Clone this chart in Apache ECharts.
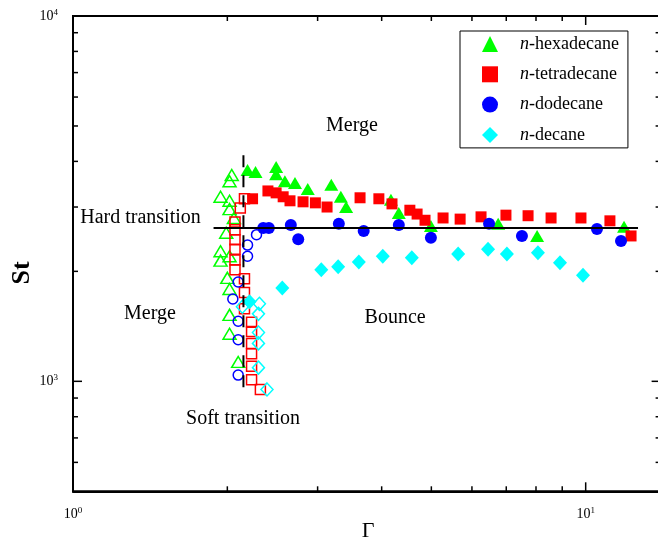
<!DOCTYPE html>
<html style="height: 100%">
<head>
    <meta charset="utf-8">
</head>
<body style="height: 100%; margin: 0">
<div id="container" style="width: 658px; height: 544px"></div>
<script type="text/javascript" src="https://cdn.jsdelivr.net/npm/echarts@6/dist/echarts.min.js"></script>
<script type="text/javascript">
    // [Gamma, St]; filled = bounce, hollow = merge
    var hexaBounce = [[2.19, 3790], [2.27, 3740], [2.49, 3860], [2.49, 3690], [2.59, 3530], [2.71, 3490],
        [2.87, 3360], [3.19, 3450], [3.33, 3200], [3.41, 3000], [4.17, 3140], [4.32, 2890], [4.99, 2660],
        [6.75, 2700], [8.04, 2500], [11.88, 2650]];
    var hexaMerge = [[2.04, 3670], [2.02, 3530], [1.94, 3200], [2.02, 3120], [2.02, 2960], [2.06, 2800],
        [1.99, 2550], [1.94, 2270], [2.02, 2200], [1.94, 2140], [2.00, 1920], [2.02, 1790], [2.02, 1520],
        [2.02, 1350], [2.10, 1130]];
    var tetraBounce = [[2.24, 3160], [2.40, 3320], [2.49, 3280], [2.57, 3200], [2.65, 3120], [2.81, 3100],
        [2.97, 3080], [3.13, 3000], [3.63, 3180], [3.95, 3160], [4.19, 3060], [4.54, 2940], [4.69, 2870],
        [4.86, 2760], [5.27, 2800], [5.69, 2780], [6.25, 2820], [6.99, 2850], [7.72, 2840], [8.56, 2800],
        [9.79, 2800], [11.15, 2750], [12.26, 2500]];
    var tetraMerge = [[2.16, 3160], [2.12, 2980], [2.07, 2730], [2.07, 2600], [2.07, 2440], [2.07, 2300],
        [2.07, 2150], [2.07, 2020], [2.16, 1910], [2.16, 1750], [2.16, 1580], [2.23, 1450], [2.23, 1370],
        [2.23, 1270], [2.23, 1190], [2.23, 1100], [2.23, 1010], [2.32, 950]];
    var dodeBounce = [[2.35, 2630], [2.41, 2630], [2.66, 2680], [2.75, 2450], [3.30, 2700], [3.69, 2580],
        [4.32, 2680], [4.99, 2470], [6.48, 2700], [7.51, 2500], [10.52, 2610], [11.72, 2420]];
    var dodeMerge = [[2.28, 2520], [2.19, 2360], [2.19, 2200], [2.10, 1870], [2.05, 1680], [2.10, 1460],
        [2.10, 1300], [2.10, 1040]];
    var decaBounce = [[2.21, 1650], [2.56, 1800], [3.05, 2020], [3.29, 2060], [3.61, 2120], [4.02, 2200],
        [4.58, 2180], [5.64, 2230], [6.45, 2300], [7.02, 2230], [8.07, 2250], [8.91, 2110], [9.88, 1950]];
    var decaMerge = [[2.14, 1600], [2.31, 1630], [2.30, 1530], [2.30, 1360], [2.30, 1270], [2.30, 1090],
        [2.39, 950]];

    var hardLine = [[1.88, 2630], [12.65, 2630]];
    var softLine = [[2.15, 4160], [2.15, 920]];

    var notes = [[3.50, 5000, 'Merge'], [1.354, 2800, 'Hard transition'], [1.413, 1530, 'Merge'],
        [4.25, 1490, 'Bounce'], [2.146, 788, 'Soft transition']];

    var xRange = [1, 14];
    var yRange = [500, 10000];
    var xMajorTicks = [1, 10];
    var xMinorTicks = [2, 3, 4, 5, 6, 7, 8, 9];
    var yMajorTicks = [1000, 10000];
    var yMinorTicks = [600, 700, 800, 900, 2000, 3000, 4000, 5000, 6000, 7000, 8000, 9000];

    var FONT = '"Liberation Serif", "Times New Roman", serif';

    var xTickData = xMajorTicks.map(function (v) { return [v, yRange[0], 1]; })
        .concat(xMinorTicks.map(function (v) { return [v, yRange[0], 0]; }));
    var yTickData = yMajorTicks.map(function (v) { return [xRange[0], v, 1]; })
        .concat(yMinorTicks.map(function (v) { return [xRange[0], v, 0]; }));

    function powLabel(v) {
        var e = Math.round(Math.log(v) / Math.LN10);
        if (Math.abs(Math.pow(10, e) - v) > 1e-6 * v) {
            return '';
        }
        return '{b|10}{s|' + e + '}';
    }
    var labelRich = {
        b: {fontFamily: FONT, fontSize: 14, lineHeight: 16, color: '#000'},
        s: {fontFamily: FONT, fontSize: 9, lineHeight: 9, verticalAlign: 'top', color: '#000'}
    };

    function tickLine(x1, y1, x2, y2) {
        return {type: 'line', shape: {x1: x1, y1: y1, x2: x2, y2: y2},
            style: {stroke: '#000', lineWidth: 1.5}};
    }
    function renderXTick(params, api) {
        var cs = params.coordSys;
        var x = api.coord([api.value(0), yRange[0]])[0];
        var len = api.value(2) ? 9 : 5;
        var b = cs.y + cs.height;
        return {type: 'group', children: [
            tickLine(x, b, x, b - len),
            tickLine(x, cs.y, x, cs.y + len)
        ]};
    }
    function renderYTick(params, api) {
        var cs = params.coordSys;
        var y = api.coord([xRange[0], api.value(1)])[1];
        var len = api.value(2) ? 9 : 5;
        var r = cs.x + cs.width;
        return {type: 'group', children: [
            tickLine(cs.x, y, cs.x + len, y),
            tickLine(r, y, r - len, y)
        ]};
    }
    function renderNote(params, api) {
        var p = api.coord([api.value(0), api.value(1)]);
        return {type: 'text', x: p[0], y: p[1], style: {
            text: notes[params.dataIndex][2], font: '20px ' + FONT, fill: '#000',
            align: 'center', verticalAlign: 'middle'
        }};
    }

    function filled(name, data, symbol, size, color) {
        return {name: name, type: 'scatter', data: data, symbol: symbol, symbolSize: size,
            itemStyle: {color: color, opacity: 1}, z: 3};
    }
    function hollow(name, data, symbol, size, color) {
        return {name: name, type: 'scatter', data: data, symbol: symbol, symbolSize: size,
            itemStyle: {color: 'transparent', borderColor: color, borderWidth: 1.5, opacity: 1}, z: 3};
    }

    var dom = document.getElementById("container");
    var myChart = echarts.init(dom, null, {renderer: 'canvas'});
    var option = {
        animation: false,
        backgroundColor: '#fff',
        grid: {
            left: 73, top: 16, width: 587.6, height: 475.3,
            outerBoundsMode: 'none', containLabel: false,
            show: true, borderColor: '#000', borderWidth: 2, backgroundColor: 'transparent'
        },
        xAxis: {
            type: 'log', logBase: 10, min: xRange[0], max: xRange[1],
            axisLine: {lineStyle: {color: '#000', width: 2}},
            axisTick: {show: false},
            splitLine: {show: false},
            axisLabel: {margin: 15, formatter: powLabel, rich: labelRich, color: '#000'}
        },
        yAxis: {
            type: 'log', logBase: 10, min: yRange[0], max: yRange[1],
            axisLine: {lineStyle: {color: '#000', width: 2}},
            axisTick: {show: false},
            splitLine: {show: false},
            axisLabel: {margin: 15, formatter: powLabel, rich: labelRich, color: '#000'}
        },
        legend: {
            data: ['n-hexadecane', 'n-tetradecane', 'n-dodecane', 'n-decane'],
            orient: 'vertical', left: 460, top: 31,
            padding: [4, 9, 4, 22],
            itemWidth: 16, itemHeight: 16, itemGap: 12.3,
            borderColor: '#000', borderWidth: 1,
            selectedMode: false,
            textStyle: {
                fontFamily: FONT, fontSize: 18, color: '#000', lineHeight: 16,
                rich: {
                    i: {fontFamily: FONT, fontSize: 18, fontStyle: 'italic', lineHeight: 16, color: '#000',
                        padding: [0, 0, 0, 17]},
                    t: {fontFamily: FONT, fontSize: 18, lineHeight: 16, color: '#000'}
                }
            },
            formatter: function (name) {
                return '{i|n}{t|' + name.slice(1) + '}';
            }
        },
        graphic: [
            {type: 'text', x: 22, y: 273, rotation: Math.PI / 2,
                style: {text: 'St', font: 'bold 26px ' + FONT, fill: '#000', align: 'center', verticalAlign: 'middle'}},
            {type: 'text', x: 368, y: 531,
                style: {text: 'Γ', font: '22px ' + FONT, fill: '#000', align: 'center', verticalAlign: 'middle'}}
        ],
        series: [
            hollow('hexaMerge', hexaMerge, 'triangle', [13, 11], '#00ff00'),
            hollow('tetraMerge', tetraMerge, 'rect', 10, '#ff0000'),
            hollow('dodeMerge', dodeMerge, 'circle', 10, '#0000ff'),
            hollow('decaMerge', decaMerge, 'diamond', [12, 13], '#00ffff'),
            filled('n-hexadecane', hexaBounce, 'triangle', [14, 12], '#00ff00'),
            filled('n-tetradecane', tetraBounce, 'rect', 11, '#ff0000'),
            filled('n-dodecane', dodeBounce, 'circle', 12, '#0000ff'),
            filled('n-decane', decaBounce, 'diamond', [14, 15], '#00ffff'),
            {name: 'hard', type: 'line', data: hardLine, symbol: 'none', silent: true, z: 4,
                lineStyle: {color: '#000', width: 2}},
            {name: 'soft', type: 'line', data: softLine, symbol: 'none', silent: true, z: 4,
                lineStyle: {color: '#000', width: 2, type: [12, 8]}},
            {name: 'xticks', type: 'custom', data: xTickData, renderItem: renderXTick, silent: true, z: 5},
            {name: 'yticks', type: 'custom', data: yTickData, renderItem: renderYTick, silent: true, z: 5},
            {name: 'notes', type: 'custom', data: notes.map(function (n) { return [n[0], n[1]]; }),
                renderItem: renderNote, silent: true, z: 6}
        ]
    };
    myChart.setOption(option, true);
</script>
</body>
</html>
